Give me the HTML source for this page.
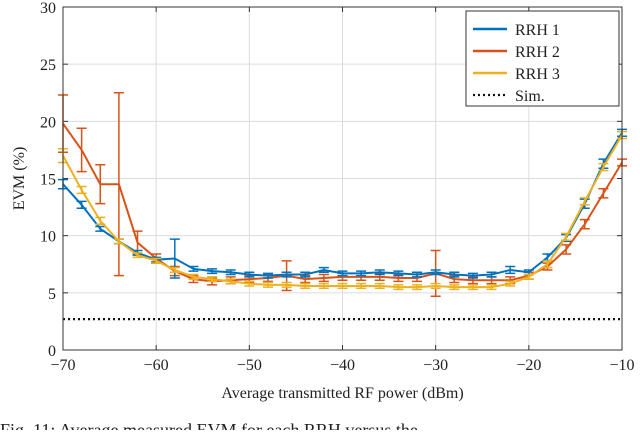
<!DOCTYPE html>
<html><head><meta charset="utf-8"><style>
body{margin:0;background:#fff;width:640px;height:430px;overflow:hidden}
svg text{font-family:"Liberation Serif",serif;fill:#222}
</style></head><body>
<svg id="c" width="640" height="430"></svg>
<script>
const xs=[-70,-68,-66,-64,-62,-60,-58,-56,-54,-52,-50,-48,-46,-44,-42,-40,-38,-36,-34,-32,-30,-28,-26,-24,-22,-20,-18,-16,-14,-12,-10];
const rrh1=[14.5,12.7,10.6,9.5,8.5,7.9,8.0,7.1,6.9,6.8,6.6,6.5,6.6,6.6,7.0,6.7,6.7,6.8,6.7,6.6,6.8,6.6,6.5,6.6,7.0,6.8,8.1,9.8,12.8,16.3,19.0];
const rrh1Err=[0.4,0.3,0.2,0.2,0.2,0.2,1.7,0.2,0.2,0.2,0.2,0.2,0.2,0.2,0.2,0.2,0.2,0.2,0.2,0.2,0.2,0.2,0.2,0.2,0.3,0.2,0.3,0.3,0.4,0.4,0.3];
const rrh2=[19.8,17.5,14.5,14.5,9.4,8.0,6.9,6.2,6.0,6.1,6.2,6.3,6.5,6.2,6.3,6.4,6.4,6.4,6.3,6.3,6.7,6.2,6.1,6.1,6.1,6.5,7.3,8.8,11.0,13.7,16.4];
const rrh2Err=[2.5,1.9,1.7,8.0,1.0,0.4,0.4,0.3,0.3,0.3,0.3,0.3,1.3,0.3,0.3,0.3,0.3,0.3,0.3,0.3,2.0,0.3,0.3,0.3,0.3,0.3,0.3,0.4,0.4,0.4,0.3];
const rrh3=[17.0,14.0,11.3,9.5,8.3,7.8,7.0,6.4,6.2,6.0,5.8,5.7,5.7,5.6,5.6,5.6,5.6,5.6,5.5,5.5,5.6,5.5,5.5,5.5,5.8,6.4,7.5,9.9,13.0,16.0,18.8];
const rrh3Err=[0.6,0.3,0.3,0.2,0.2,0.2,0.2,0.2,0.2,0.2,0.2,0.2,0.2,0.2,0.2,0.2,0.2,0.2,0.2,0.2,0.2,0.2,0.2,0.2,0.2,0.2,0.3,0.3,0.3,0.3,0.3];
const simVal=2.7;
const xTicks=[-70,-60,-50,-40,-30,-20,-10];
const yTicks=[0,5,10,15,20,25,30];
const L=63,R=622,T=7,B=350;
const X=v=>L+(v+70)/60*(R-L), Y=v=>B-v/30*(B-T);
const s=document.getElementById('c');const NS='http://www.w3.org/2000/svg';
function el(t,a,p){const e=document.createElementNS(NS,t);for(const k in a)e.setAttribute(k,a[k]);(p||s).appendChild(e);return e;}
xTicks.forEach(v=>{const g=el('line',{x1:X(v),x2:X(v),y1:T,y2:B,stroke:'#dcdcdc'});


const t=el('text',{x:X(v),y:B+20,'text-anchor':'middle','font-size':16});t.textContent=(v<0?'\u2212'+(-v):v);


el('line',{x1:X(v),x2:X(v),y1:B,y2:B-5,stroke:'#333'});el('line',{x1:X(v),x2:X(v),y1:T,y2:T+5,stroke:'#333'});});
yTicks.forEach(v=>{const g=el('line',{x1:L,x2:R,y1:Y(v),y2:Y(v),stroke:'#dcdcdc'});


const t=el('text',{x:L-7,y:Y(v)+6,'text-anchor':'end','font-size':16});t.textContent=v;


el('line',{x1:L,x2:L+5,y1:Y(v),y2:Y(v),stroke:'#333'});el('line',{x1:R,x2:R-5,y1:Y(v),y2:Y(v),stroke:'#333'});});
const sim=el('line',{x1:L,x2:R,y1:Y(simVal),y2:Y(simVal),stroke:'#111','stroke-width':2.2,'stroke-dasharray':'2 3'});


function series(vals,errs,col,name){const g=el('g',{});


el('polyline',{points:xs.map((x,i)=>X(x)+','+Y(vals[i])).join(' '),fill:'none',stroke:col,'stroke-width':2},g);
xs.forEach((x,i)=>{const cx=X(x),a=Y(vals[i]-errs[i]),b=Y(vals[i]+errs[i]);
el('path',{d:`M${cx},${a}V${b}M${cx-5},${a}h10M${cx-5},${b}h10`,stroke:col,'stroke-width':1.5,fill:'none'},g);});}
series(rrh2,rrh2Err,'#d95319','series-rrh2');
series(rrh1,rrh1Err,'#0072bd','series-rrh1');
series(rrh3,rrh3Err,'#edb120','series-rrh3');
el('rect',{x:L,y:T,width:R-L,height:B-T,fill:'none',stroke:'#333'});
const lg=el('g',{});
el('rect',{x:466,y:11,width:153,height:95,fill:'#fff',stroke:'#333'},lg);
[['RRH 1','#0072bd',0],['RRH 2','#d95319',0],['RRH 3','#edb120',0],['Sim.','#111',1]].forEach((d,i)=>{const y=29+i*22;
el('line',{x1:473,x2:507,y1:y,y2:y,stroke:d[1],'stroke-width':d[2]?2.2:2.5,'stroke-dasharray':d[2]?'2 3':'none'},lg);
const t=el('text',{x:515,y:y+6,'font-size':16},lg);t.textContent=d[0];

});
const xl=el('text',{x:(L+R)/2,y:398,'text-anchor':'middle','font-size':16});xl.textContent='Average transmitted RF power (dBm)';

const yl=el('text',{x:0,y:0,'text-anchor':'middle','font-size':16,transform:`translate(24,${(T+B)/2}) rotate(-90)`});yl.textContent='EVM (%)';

const cap=el('text',{x:0,y:436,'font-size':18});cap.textContent='Fig. 11: Average measured EVM for each RRH versus the';

</script></body></html>
